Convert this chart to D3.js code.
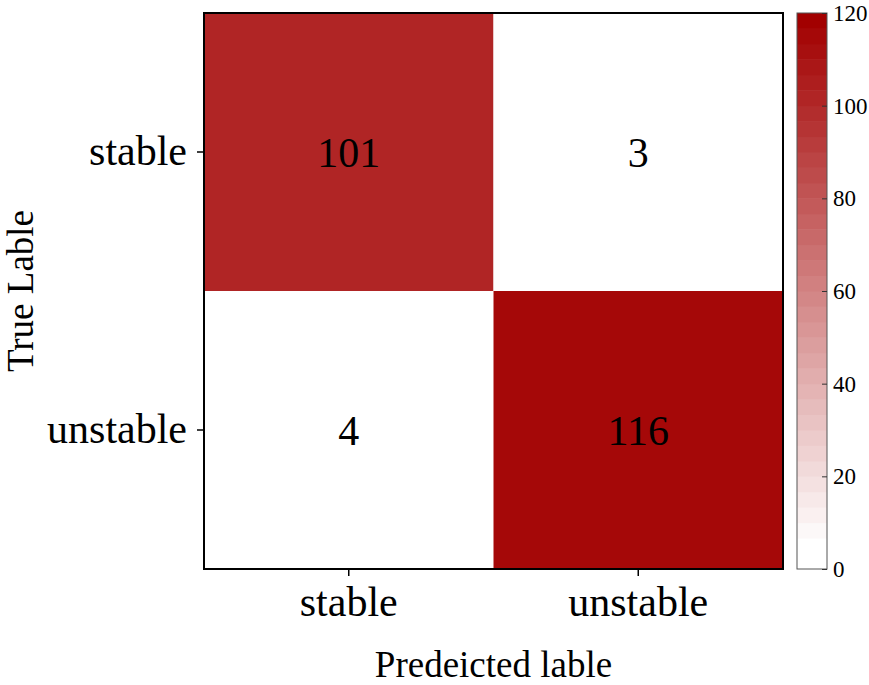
<!DOCTYPE html>
<html>
<head>
<meta charset="utf-8">
<script src="https://cdn.jsdelivr.net/npm/d3@7"></script>
<style>
body { margin: 0; background: #fff; }
svg text { font-family: "Liberation Serif", "Times New Roman", serif; fill: #000; }
</style>
</head>
<body>
<div id="graphic"></div>
<script>
// confusion matrix data
var trueLabels = ["stable", "unstable"];
var predLabels = ["stable", "unstable"];
var counts = [
	[101, 3],
	[4, 116]
];
var cbTicks = [0, 20, 40, 60, 80, 100, 120];
var cbMax = 120;
var nLevels = 36;

var width = 869, height = 685;
var margin = { top: 13, left: 204 };
var plotW = 579, plotH = 556;

var svg = d3.select("#graphic").append("svg")
	.attr("width", width)
	.attr("height", height);

var g = svg.append("g").attr("transform", "translate(" + margin.left + "," + margin.top + ")");

var x = d3.scaleBand().domain(predLabels).range([0, plotW]);
var y = d3.scaleBand().domain(trueLabels).range([0, plotH]);

// discrete white -> dark red map, lowest two bands white
var colour = d3.scaleLinear().domain([0, cbMax]).range(["#ffffff", "#a20000"]);
var step = cbMax / nLevels;
function levelColour(lv) {
	return colour(Math.max(0, lv - 1) * cbMax / (nLevels - 2));
}
function quant(v) {
	var lv = Math.min(nLevels - 1, Math.floor(v / step));
	return levelColour(lv);
}

var cells = [];
counts.forEach(function(row, i) {
	row.forEach(function(v, j) {
		cells.push({ t: trueLabels[i], p: predLabels[j], v: v });
	});
});

g.selectAll("rect.cell").data(cells).enter().append("rect")
	.attr("class", "cell")
	.attr("x", function(d) { return x(d.p); })
	.attr("y", function(d) { return y(d.t); })
	.attr("width", x.bandwidth())
	.attr("height", y.bandwidth())
	.attr("fill", function(d) { return quant(d.v); });

g.selectAll("text.val").data(cells).enter().append("text")
	.attr("class", "val")
	.attr("x", function(d) { return x(d.p) + x.bandwidth() / 2; })
	.attr("y", function(d) { return y(d.t) + y.bandwidth() / 2; })
	.attr("dy", "0.35em")
	.attr("text-anchor", "middle")
	.style("font-size", "42px")
	.text(function(d) { return d.v; });

// axes
var xAxis = g.append("g").attr("transform", "translate(0," + plotH + ")")
	.call(d3.axisBottom(x).tickSize(7).tickPadding(8));
xAxis.select(".domain").remove();
xAxis.selectAll("text").style("font-size", "42px").attr("dy", "0.75em");
xAxis.selectAll("line").attr("stroke", "#000").attr("stroke-width", 1.5);

var yAxis = g.append("g")
	.call(d3.axisLeft(y).tickSize(7).tickPadding(10));
yAxis.select(".domain").remove();
yAxis.selectAll("text").style("font-size", "42px");
yAxis.selectAll("line").attr("stroke", "#000").attr("stroke-width", 1.5);

g.append("rect")
	.attr("width", plotW).attr("height", plotH)
	.attr("fill", "none").attr("stroke", "#000").attr("stroke-width", 2);

// axis titles
svg.append("text")
	.attr("x", margin.left + plotW / 2)
	.attr("y", 677)
	.attr("text-anchor", "middle")
	.style("font-size", "37px")
	.text("Predeicted lable");

svg.append("text")
	.attr("transform", "translate(33," + (margin.top + plotH / 2) + ") rotate(-90)")
	.attr("text-anchor", "middle")
	.style("font-size", "37px")
	.text("True Lable");

// colour bar
var cbX = 797, cbW = 30;
var cy = d3.scaleLinear().domain([0, cbMax]).range([margin.top + plotH, margin.top]);
var levels = d3.range(nLevels);
svg.append("g").selectAll("rect").data(levels).enter().append("rect")
	.attr("x", cbX)
	.attr("y", function(d) { return cy((d + 1) * step); })
	.attr("width", cbW)
	.attr("height", function(d) { return cy(d * step) - cy((d + 1) * step) + 0.5; })
	.attr("fill", function(d) { return levelColour(d); });

svg.append("rect")
	.attr("x", cbX).attr("y", margin.top)
	.attr("width", cbW).attr("height", plotH)
	.attr("fill", "none").attr("stroke", "#555").attr("stroke-width", 1);

var cbAxis = svg.append("g").attr("transform", "translate(" + (cbX + cbW) + ",0)")
	.call(d3.axisRight(cy).tickValues(cbTicks).tickSize(-5).tickPadding(6));
cbAxis.select(".domain").remove();
cbAxis.selectAll("text").style("font-size", "23px");
cbAxis.selectAll("line").attr("stroke", "#333");
</script>
</body>
</html>
